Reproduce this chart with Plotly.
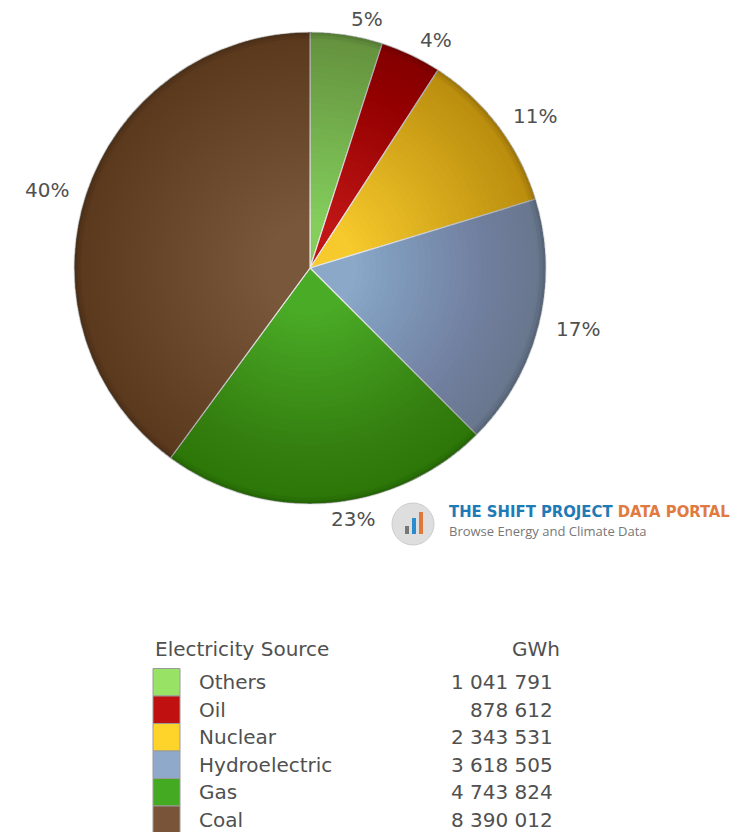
import math
import plotly.graph_objects as go

# Electricity generation by source (GWh)
sources = ["Others", "Oil", "Nuclear", "Hydroelectric", "Gas", "Coal"]
gwh = [1041791, 878612, 2343531, 3618505, 4743824, 8390012]

# Swatch colours (table) and the lit centre shades used on the pie
swatch_colors = ["#98e266", "#c01010", "#ffd42a", "#8ea9c9", "#44aa22", "#7a5438"]
slice_colors = ["#86ce5c", "#c01616", "#f6c92c", "#8ca8c9", "#4aab26", "#78573b"]

W, H = 736, 832
cx, cy, r = 310, 268, 236
label_r = 252  # distance of the percentage labels from the centre
TEXT = "#505050"
FONT = "DejaVu Sans, Verdana, sans-serif"

domain = dict(x=[(cx - r) / W, (cx + r) / W],
              y=[(H - cy - r) / H, (H - cy + r) / H])

fig = go.Figure()

# Coloured slices, clockwise from 12 o'clock
fig.add_trace(go.Pie(
    labels=sources, values=gwh, sort=False, direction="clockwise", rotation=0,
    marker=dict(colors=slice_colors, line=dict(color="#e6e6e6", width=1.2)),
    textinfo="none", domain=domain, showlegend=False,
    hoverinfo="label+value+percent",
))

# Shading: many faint dark rings build a smooth darkening toward the rim
n = 30
for k in range(n):
    hole = 0.20 + k * (0.96 - 0.20) / (n - 1)
    fig.add_trace(go.Pie(
        values=[1], hole=hole, sort=False, textinfo="none", hoverinfo="skip",
        marker=dict(colors=["rgba(0,0,0,0.008)"], line=dict(width=0)),
        domain=domain, showlegend=False,
    ))
for hole, alpha in [(0.972, 0.06), (0.986, 0.08)]:
    fig.add_trace(go.Pie(
        values=[1], hole=hole, sort=False, textinfo="none", hoverinfo="skip",
        marker=dict(colors=[f"rgba(0,0,0,{alpha})"], line=dict(width=0)),
        domain=domain, showlegend=False,
    ))

annotations = []
shapes = []


def px(x):
    return x / W


def py(y):
    return 1 - y / H


# Percentage labels at each slice's mid-angle, just outside the rim
total = sum(gwh)
cum = 0.0
for v in gwh:
    frac = v / total
    theta = 2 * math.pi * (cum + frac / 2)
    cum += frac
    lx = cx + label_r * math.sin(theta)
    ly = cy - label_r * math.cos(theta)
    annotations.append(dict(
        x=px(lx), y=py(ly), xref="paper", yref="paper",
        xanchor="left" if math.sin(theta) >= 0 else "right", yanchor="middle",
        text=f"{round(frac * 100)}%", showarrow=False,
        font=dict(family=FONT, size=20, color=TEXT)))

# Logo: round badge with three bars and the portal name
shapes.append(dict(type="circle", xref="paper", yref="paper",
                   x0=px(392), x1=px(434), y0=py(545), y1=py(503),
                   fillcolor="#dedede", line=dict(color="#cccccc", width=1)))
for (bx, btop, col) in [(405, 526, "#777777"), (412, 518, "#2a8ccc"), (419, 512, "#e0783a")]:
    shapes.append(dict(type="rect", xref="paper", yref="paper",
                       x0=px(bx), x1=px(bx + 4), y0=py(534), y1=py(btop),
                       fillcolor=col, line=dict(width=0)))
annotations.append(dict(
    x=px(447), y=py(511), xref="paper", yref="paper", xanchor="left", yanchor="middle",
    text="<b><span style='color:#1f7bb6'>THE SHIFT PROJECT</span> "
         "<span style='color:#e07a3e'>DATA PORTAL</span></b>",
    font=dict(family="Liberation Sans Narrow, DejaVu Sans Condensed, sans-serif", size=16.5),
    showarrow=False))
annotations.append(dict(
    x=px(447), y=py(531), xref="paper", yref="paper", xanchor="left", yanchor="middle",
    text="Browse Energy and Climate Data",
    font=dict(family="Open Sans, sans-serif", size=13, color="#777777"), showarrow=False))

# Data table below the pie
annotations.append(dict(x=px(153), y=py(649), xref="paper", yref="paper",
                        xanchor="left", yanchor="middle", text="Electricity Source",
                        font=dict(family=FONT, size=20, color=TEXT), showarrow=False))
annotations.append(dict(x=px(562), y=py(649), xref="paper", yref="paper",
                        xanchor="right", yanchor="middle", text="GWh",
                        font=dict(family=FONT, size=20, color=TEXT), showarrow=False))

row0, step = 682, 27.5
for i, (name, val, col) in enumerate(zip(sources, gwh, swatch_colors)):
    yc = row0 + i * step
    shapes.append(dict(type="rect", xref="paper", yref="paper",
                       x0=px(153), x1=px(180), y0=py(yc + 14), y1=py(yc - 13.5),
                       fillcolor=col, line=dict(color="#9a9a9a", width=1)))
    annotations.append(dict(x=px(197), y=py(yc), xref="paper", yref="paper",
                            xanchor="left", yanchor="middle", text=name,
                            font=dict(family=FONT, size=20, color=TEXT), showarrow=False))
    annotations.append(dict(x=px(555), y=py(yc), xref="paper", yref="paper",
                            xanchor="right", yanchor="middle",
                            text=f"{val:,}".replace(",", " "),
                            font=dict(family=FONT, size=20, color=TEXT), showarrow=False))

fig.update_layout(
    width=W, height=H, margin=dict(l=0, r=0, t=0, b=0),
    paper_bgcolor="white", plot_bgcolor="white",
    annotations=annotations, shapes=shapes,
)

fig.write_html("out.html")
